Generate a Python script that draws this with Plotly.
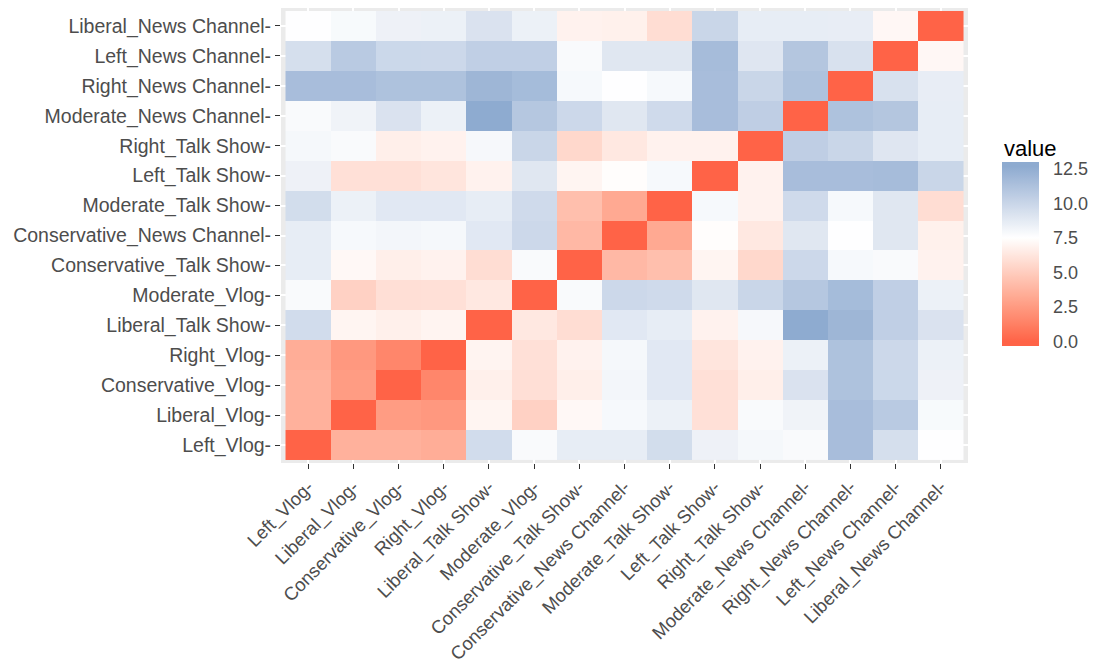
import plotly.graph_objects as go

# Category order, bottom-to-top on y and left-to-right on x
categories = [
    "Left_Vlog", "Liberal_Vlog", "Conservative_Vlog", "Right_Vlog",
    "Liberal_Talk Show", "Moderate_Vlog", "Conservative_Talk Show",
    "Conservative_News Channel", "Moderate_Talk Show", "Left_Talk Show",
    "Right_Talk Show", "Moderate_News Channel", "Right_News Channel",
    "Left_News Channel", "Liberal_News Channel",
]

# Pairwise distances, one row per category (same order as columns)
row_left_vlog = [0, 3.6, 3.6, 3.4, 9.6, 7.8, 8.6, 8.6, 9.55, 8.3, 7.95, 7.8, 11.5, 9.45, 7.55]
row_liberal_vlog = [3.6, 0, 2.6, 2.4, 7.0, 5.2, 7.15, 7.9, 8.35, 5.95, 7.8, 8.2, 11.5, 10.7, 7.85]
row_conservative_vlog = [3.6, 2.6, 0, 1.55, 6.75, 5.9, 6.7, 8.05, 8.85, 5.95, 6.7, 9.2, 11.2, 9.85, 8.3]
row_right_vlog = [3.4, 2.4, 1.55, 0, 6.95, 5.95, 6.85, 7.95, 8.85, 6.2, 6.85, 8.35, 11.2, 9.8, 8.35]
row_liberal_talk = [9.6, 7.0, 6.75, 6.95, 0, 6.35, 5.8, 8.85, 8.6, 6.85, 7.92, 12.65, 11.95, 10.4, 9.2]
row_moderate_vlog = [7.8, 5.2, 5.9, 5.95, 6.35, 0, 7.8, 9.8, 9.7, 8.95, 10.0, 10.9, 11.6, 10.4, 8.35]
row_conservative_talk = [8.6, 7.15, 6.7, 6.85, 5.8, 7.8, 0, 3.95, 4.3, 7.0, 5.55, 9.8, 7.9, 7.8, 6.85]
row_conservative_news = [8.6, 7.9, 8.05, 7.95, 8.85, 9.8, 3.95, 0, 3.2, 7.4, 6.35, 8.95, 7.55, 8.95, 6.8]
row_moderate_talk = [9.55, 8.35, 8.85, 8.85, 8.6, 9.7, 4.3, 3.2, 0, 7.9, 6.85, 9.7, 7.9, 8.95, 5.8]
row_left_talk = [8.3, 5.95, 5.95, 6.2, 6.85, 8.95, 7.0, 7.4, 7.9, 0, 6.85, 11.5, 11.5, 11.55, 10.0]
row_right_talk = [7.95, 7.8, 6.7, 6.85, 7.92, 10.0, 5.55, 6.35, 6.85, 6.85, 0, 10.45, 10.0, 9.0, 8.6]
row_moderate_news = [7.8, 8.2, 9.2, 8.35, 12.65, 10.9, 9.8, 8.95, 9.7, 11.5, 10.45, 0, 11.2, 10.95, 8.6]
row_right_news = [11.5, 11.5, 11.2, 11.2, 11.95, 11.6, 7.9, 7.55, 7.9, 11.5, 10.0, 11.2, 0, 9.3, 8.55]
row_left_news = [9.45, 10.7, 9.85, 9.8, 10.4, 10.4, 7.8, 8.95, 8.95, 11.55, 9.0, 10.95, 9.3, 0, 7.1]
row_liberal_news = [7.55, 7.85, 8.3, 8.35, 9.2, 8.35, 6.85, 6.8, 5.8, 10.0, 8.6, 8.6, 8.55, 7.1, 0]

values = [
    row_left_vlog, row_liberal_vlog, row_conservative_vlog, row_right_vlog,
    row_liberal_talk, row_moderate_vlog, row_conservative_talk,
    row_conservative_news, row_moderate_talk, row_left_talk, row_right_talk,
    row_moderate_news, row_right_news, row_left_news, row_liberal_news,
]

# Axis labels as printed (each ends with a hyphen)
tick_labels = [c + "-" for c in categories]

legend_ticks = [0.0, 2.5, 5.0, 7.5, 10.0, 12.5]

# ---- diverging colour scale (low / mid / high), interpolated in CIELAB ----
LOW, MID, HIGH = "#FF6347", "#FFFFFF", "#8EABD0"
MIDPOINT = 7.5


def _lin(c):
    c = c / 255.0
    return c / 12.92 if c <= 0.04045 else ((c + 0.055) / 1.055) ** 2.4


def _gam(c):
    c = min(1.0, max(0.0, c))
    v = 12.92 * c if c <= 0.0031308 else 1.055 * c ** (1 / 2.4) - 0.055
    return int(round(v * 255))


WP = (0.95047, 1.0, 1.08883)


def hex_to_lab(h):
    r, g, b = (_lin(int(h[i:i + 2], 16)) for i in (1, 3, 5))
    x = (0.4124 * r + 0.3576 * g + 0.1805 * b) / WP[0]
    y = (0.2126 * r + 0.7152 * g + 0.0722 * b) / WP[1]
    z = (0.0193 * r + 0.1192 * g + 0.9505 * b) / WP[2]
    f = lambda t: t ** (1 / 3) if t > 0.008856 else 7.787 * t + 16 / 116
    fx, fy, fz = f(x), f(y), f(z)
    return 116 * fy - 16, 500 * (fx - fy), 200 * (fy - fz)


def lab_to_rgb(L, a, b):
    fy = (L + 16) / 116
    fx = fy + a / 500
    fz = fy - b / 200
    inv = lambda t: t ** 3 if t ** 3 > 0.008856 else (t - 16 / 116) / 7.787
    x, y, z = inv(fx) * WP[0], inv(fy) * WP[1], inv(fz) * WP[2]
    r = 3.2406 * x - 1.5372 * y - 0.4986 * z
    g = -0.9689 * x + 1.8758 * y + 0.0415 * z
    bb = 0.0557 * x - 0.2040 * y + 1.0570 * z
    return "rgb(%d,%d,%d)" % (_gam(r), _gam(g), _gam(bb))


def mix(c1, c2, t):
    l1, l2 = hex_to_lab(c1), hex_to_lab(c2)
    return lab_to_rgb(*(p + (q - p) * t for p, q in zip(l1, l2)))


lo = min(min(r) for r in values)
hi = max(max(r) for r in values)
pad = (hi - lo) / 38.0          # half-bin overhang at both ends of the bar
zmin, zmax = lo - pad, hi + pad


def colour_at(v):
    if v <= lo:
        return LOW
    if v >= hi:
        return HIGH
    if v <= MIDPOINT:
        return mix(LOW, MID, (v - lo) / (MIDPOINT - lo))
    return mix(MID, HIGH, (v - MIDPOINT) / (hi - MIDPOINT))


n = 80
scale = []
for k in range(n + 1):
    v = zmin + (zmax - zmin) * k / n
    scale.append([k / n, colour_at(v)])

# ---- figure ----
W, H = 1095, 666
ML, MR, MT, MB = 281, 127, 8, 203
pw, ph = W - ML - MR, H - MT - MB

bar_left, bar_top, bar_bottom, bar_w = 1002, 162, 346, 37
FONT = "Liberation Sans, Arial"

fig = go.Figure(go.Heatmap(
    z=values, x=categories, y=categories,
    colorscale=scale, zmin=zmin, zmax=zmax,
    xgap=0, ygap=0,
    colorbar=dict(
        thickness=bar_w, thicknessmode="pixels",
        len=bar_bottom - bar_top, lenmode="pixels",
        x=(bar_left - ML) / pw, xanchor="left", xpad=0,
        y=(MT + ph - (bar_top + bar_bottom) / 2) / ph, yanchor="middle", ypad=0,
        outlinewidth=0,
        tickvals=legend_ticks,
        ticktext=["%.1f" % t for t in legend_ticks],
        ticks="outside", ticklen=11, tickcolor="rgba(0,0,0,0)",
        tickfont=dict(size=18, color="#4D4D4D", family=FONT),
    ),
))


# white tick marks drawn across both edges of the colour bar
def bar_y(v):
    px = bar_bottom - (v - zmin) / (zmax - zmin) * (bar_bottom - bar_top)
    return (MT + ph - px) / ph


tick_shapes = []
for t in legend_ticks:
    yy = bar_y(t)
    for x0, x1 in ((bar_left, bar_left + 7), (bar_left + bar_w - 7, bar_left + bar_w)):
        tick_shapes.append(dict(
            type="line", xref="paper", yref="paper",
            x0=(x0 - ML) / pw, x1=(x1 - ML) / pw, y0=yy, y1=yy,
            line=dict(color="white", width=1.2),
        ))

axis_common = dict(
    type="category",
    range=[-0.6, 14.6],
    automargin=False,
    tickmode="array", tickvals=categories, ticktext=tick_labels,
    showgrid=True, gridcolor="white", gridwidth=2,
    zeroline=False, showline=False,
    ticks="outside", ticklen=5, tickwidth=1, tickcolor="#333333",
)

fig.update_layout(
    width=W, height=H,
    margin=dict(l=ML, r=MR, t=MT, b=MB, pad=0, autoexpand=False),
    paper_bgcolor="white",
    plot_bgcolor="#EBEBEB",
    xaxis=dict(axis_common, tickangle=-45,
               tickfont=dict(size=18.5, color="#4D4D4D", family=FONT)),
    yaxis=dict(axis_common,
               tickfont=dict(size=19.5, color="#4D4D4D", family=FONT)),
    font=dict(family=FONT),
    shapes=tick_shapes,
    annotations=[dict(
        text="value", showarrow=False,
        xref="paper", yref="paper",
        x=(bar_left - ML) / pw, xanchor="left",
        y=(MT + ph - 148) / ph, yanchor="middle",
        font=dict(size=22, color="black", family=FONT),
    )],
)

fig.write_html("out.html")
